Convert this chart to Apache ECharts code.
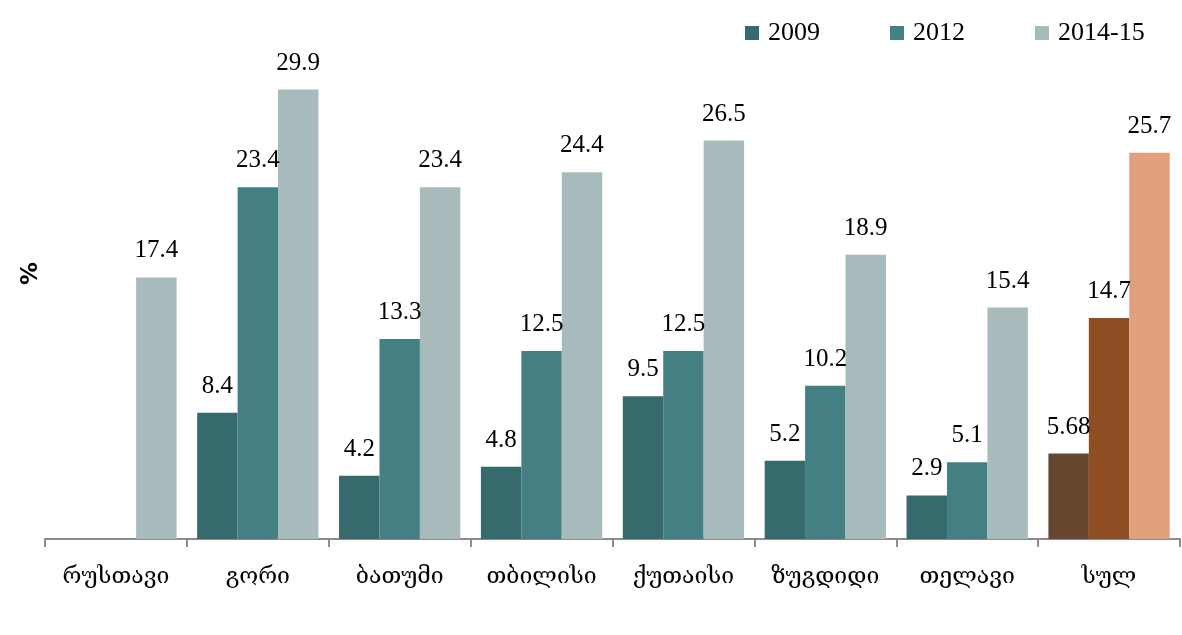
<!DOCTYPE html>
<html>
<head>
<meta charset="utf-8">
<script src="https://cdn.jsdelivr.net/npm/echarts@6/dist/echarts.min.js"></script>
<style>
  html, body { margin: 0; padding: 0; background: #fff; }
  #chart { width: 1182px; height: 635px; }
</style>
</head>
<body>
<div id="chart"></div>
<script>
    // ქალაქები
    var cities = ['რუსთავი', 'გორი', 'ბათუმი', 'თბილისი', 'ქუთაისი', 'ზუგდიდი', 'თელავი', 'სულ'];
    var values2009 = ['-', 8.4, 4.2, 4.8, 9.5, 5.2, 2.9, 5.68];
    var values2012 = ['-', 23.4, 13.3, 12.5, 12.5, 10.2, 5.1, 14.7];
    var values2014 = [17.4, 29.9, 23.4, 24.4, 26.5, 18.9, 15.4, 25.7];
    var seriesNames = ['2009', '2012', '2014-15'];

    var colors = ['#376a6d', '#447f84', '#a7bbbd'];
    // ბოლო სვეტი (სულ) სხვა ფერებით
    var totalColors = ['#674630', '#8f4d24', '#e0a07c'];

    var font = "'Liberation Serif', 'DejaVu Serif', serif";

    function makeData(arr, idx) {
        return arr.map(function (v, i) {
            if (i == arr.length - 1) {
                return { value: v, itemStyle: { color: totalColors[idx] } };
            }
            return v;
        });
    }

    function makeSeries(name, arr, idx) {
        return {
            name: name,
            type: 'bar',
            barGap: 0,
            barCategoryGap: '14.5%',
            itemStyle: { color: colors[idx] },
            label: {
                show: true,
                position: 'top',
                distance: 14,
                color: '#000',
                fontFamily: font,
                fontSize: 25
            },
            data: makeData(arr, idx)
        };
    }

    var myChart = echarts.init(document.getElementById('chart'));
    myChart.setOption({
        animation: false,
        textStyle: { fontFamily: font },
        grid: {
            left: 45,
            right: 2,
            top: 88,
            bottom: 96,
            containLabel: false
        },
        legend: {
            data: seriesNames,
            left: 740,
            top: 15,
            itemWidth: 14,
            itemHeight: 14,
            itemGap: 70,
            icon: 'rect',
            textStyle: { fontFamily: font, fontSize: 26, color: '#000', padding: [0, 0, 0, 4] }
        },
        graphic: [{
            type: 'text',
            left: 20,
            top: 262,
            rotation: Math.PI / 2,
            style: { text: '%', font: 'bold 23px "DejaVu Sans", sans-serif', fill: '#000' }
        }],
        xAxis: {
            type: 'category',
            data: cities,
            axisLine: { lineStyle: { color: '#8c8c8c', width: 2 } },
            axisTick: { show: true, length: 8, lineStyle: { color: '#8c8c8c', width: 2 } },
            axisLabel: { interval: 0, margin: 27, color: '#000', fontFamily: "'DejaVu Serif', serif", fontSize: 23 }
        },
        yAxis: {
            type: 'value',
            min: 0,
            max: 30,
            show: false,
            splitLine: { show: false }
        },
        series: [
            makeSeries(seriesNames[0], values2009, 0),
            makeSeries(seriesNames[1], values2012, 1),
            makeSeries(seriesNames[2], values2014, 2)
        ]
    });
</script>
</body>
</html>
